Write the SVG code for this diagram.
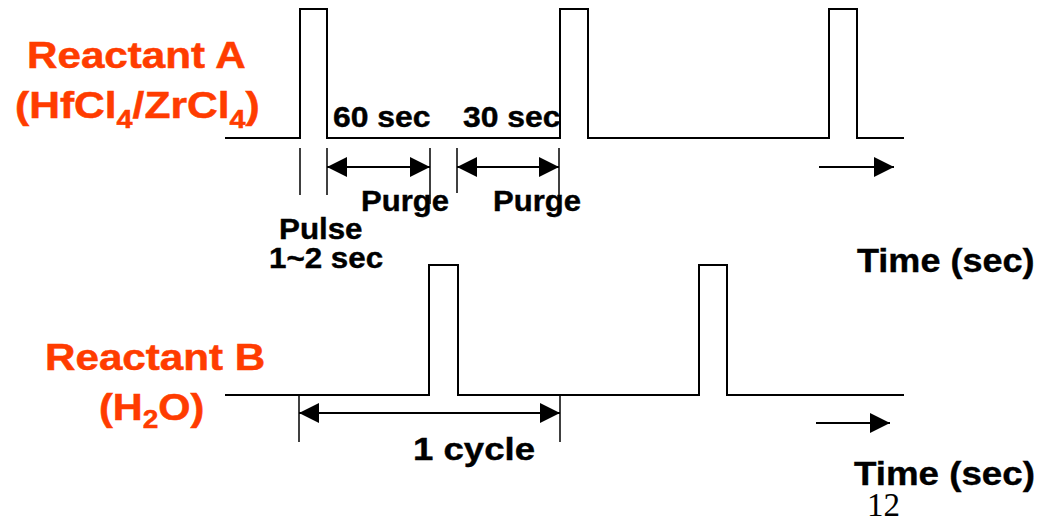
<svg xmlns="http://www.w3.org/2000/svg" width="1043" height="518" viewBox="0 0 1043 518">
  <style>
    .wave { fill: none; stroke: #000; stroke-width: 2; stroke-linejoin: miter; }
    .tick { stroke: #000; stroke-width: 1.5; }
    .dim { stroke: #000; stroke-width: 2; fill: none; }
    .red { font-family: "Liberation Sans", Arial, sans-serif; font-weight: bold; font-size: 37px; fill: #ff3c00; stroke: #ff3c00; stroke-width: 0.5; }
    .sub { font-size: 25px; }
    .lbl { font-family: "Liberation Sans", Arial, sans-serif; font-weight: bold; font-size: 29px; fill: #000; stroke: #000; stroke-width: 0.4; }
    .axis { font-family: "Liberation Sans", Arial, sans-serif; font-weight: bold; font-size: 34px; fill: #000; stroke: #000; stroke-width: 0.4; }
    .page { font-family: "Liberation Serif", "Times New Roman", serif; font-size: 33px; fill: #000; }
  </style>
  <defs>
    <marker id="head" markerUnits="userSpaceOnUse" markerWidth="20" markerHeight="20" refX="20" refY="10" orient="auto-start-reverse">
      <path d="M0,0 L20,10 L0,20 Z" fill="#000"/>
    </marker>
  </defs>

  <!-- reactant labels -->
  <g id="reactant-a-label">
    <text class="red" transform="translate(27,68) scale(1.14,1)">Reactant A</text>
    <text class="red" transform="translate(15,118) scale(1.15,1)">(HfCl<tspan class="sub" dy="10">4</tspan><tspan dy="-10">/ZrCl</tspan><tspan class="sub" dy="10">4</tspan><tspan dy="-10">)</tspan></text>
  </g>
  <g id="reactant-b-label">
    <text class="red" transform="translate(45,370) scale(1.14,1)">Reactant B</text>
    <text class="red" transform="translate(99,420) scale(1.12,1)">(H<tspan class="sub" dy="8">2</tspan><tspan dy="-8">O)</tspan></text>
  </g>

  <!-- pulse trains -->
  <g id="wave-a">
    <path class="wave" d="M225,138 H300 V9 H327 V138 H560 V9 H588 V138 H829 V9 H857 V138 H904"/>
  </g>
  <g id="wave-b">
    <path class="wave" d="M225,395 H429 V265 H458 V395 H699 V265 H727 V395 H904"/>
  </g>

  <!-- timing marks and dimension arrows -->
  <g id="connectors">
    <line class="tick" x1="300" y1="148" x2="300" y2="195"/>
    <line class="tick" x1="327" y1="148" x2="327" y2="195"/>
    <line class="tick" x1="430" y1="148" x2="430" y2="204"/>
    <line class="tick" x1="457" y1="148" x2="457" y2="193"/>
    <line class="tick" x1="559" y1="148" x2="559" y2="204"/>
    <line class="dim" x1="327" y1="167" x2="430" y2="167" marker-start="url(#head)" marker-end="url(#head)"/>
    <line class="dim" x1="457" y1="167" x2="559" y2="167" marker-start="url(#head)" marker-end="url(#head)"/>
    <line class="dim" x1="819" y1="167" x2="894" y2="167" marker-end="url(#head)"/>

    <line class="tick" x1="299" y1="395" x2="299" y2="442"/>
    <line class="tick" x1="560" y1="395" x2="560" y2="442"/>
    <line class="dim" x1="299" y1="413" x2="560" y2="413" marker-start="url(#head)" marker-end="url(#head)"/>
    <line class="dim" x1="816" y1="423" x2="890" y2="423" marker-end="url(#head)"/>
  </g>

  <!-- timing labels -->
  <g id="labels">
    <text class="lbl" transform="translate(333,127) scale(1.1,1)">60 sec</text>
    <text class="lbl" transform="translate(463,127) scale(1.1,1)">30 sec</text>
    <text class="lbl" transform="translate(361,211) scale(1.07,1)">Purge</text>
    <text class="lbl" transform="translate(493,211) scale(1.07,1)">Purge</text>
    <text class="lbl" transform="translate(279,239) scale(1.08,1)">Pulse</text>
    <text class="lbl" transform="translate(269,268) scale(1.08,1)">1~2 sec</text>
    <text class="lbl" style="font-size:31px" transform="translate(413,460) scale(1.18,1)">1 cycle</text>
    <text class="axis" transform="translate(857,272) scale(1.06,1)">Time (sec)</text>
    <text class="axis" transform="translate(854,485) scale(1.08,1)">Time (sec)</text>
    <text class="page" x="867" y="516">12</text>
  </g>
</svg>
